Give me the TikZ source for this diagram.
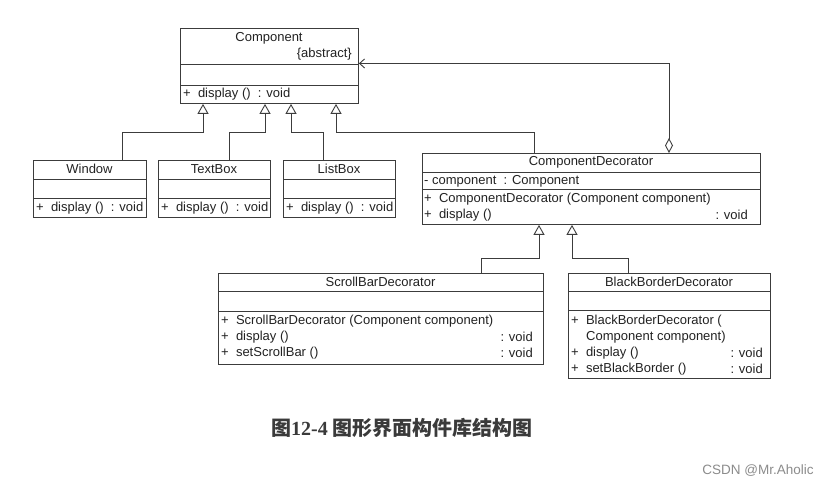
\documentclass[tikz,border=0pt]{standalone}
\usepackage{fontspec}
\setmainfont{Liberation Sans}
\newfontfamily\cjk{Noto Sans CJK SC}
\newfontfamily\serifb{Liberation Serif}
\usetikzlibrary{arrows.meta}
\definecolor{ln}{HTML}{3C3C3C}
\definecolor{tx}{HTML}{222222}
\definecolor{capc}{HTML}{3A3A3A}
\definecolor{wmc}{HTML}{8C8C8C}
\begin{document}
\begin{tikzpicture}[x=1pt,y=-1pt,
  cls/.style={draw=ln, line width=0.9pt, inner sep=0pt, anchor=north west},
  sep/.style={draw=ln, line width=0.9pt},
  txt/.style={inner sep=0pt, font=\fontsize{13}{15}\selectfont, text=tx},
  inh/.style={draw=ln, line width=0.9pt, -{Triangle[open, length=10pt, width=11pt, fill=white]}},
  agg/.style={draw=ln, line width=0.9pt, {Diamond[open, length=15pt, width=8pt, fill=white]}-{Straight Barb[length=5pt, width=9pt]}},
]
\fill[white] (0,0) rectangle (830,486);
\useasboundingbox (0,0) rectangle (830,486);

% Component
\node[cls, minimum width=178pt, minimum height=75pt] (comp) at (180,28) {};
\draw[sep] (180,64) -- (358,64) (180,85) -- (358,85);
\node[txt] (compn) at (269,38) {Component};
\node[txt, anchor=east] (compa) at (352,54) {\{abstract\}};
\node[txt, anchor=west] (compm) at (183,94) {+\ \ display () \ : void};

% Window
\node[cls, minimum width=113pt, minimum height=57pt] (win) at (33,160) {};
\draw[sep] (33,179) -- (146,179) (33,198) -- (146,198);
\node[txt] (winn) at (89.5,169) {Window};
\node[txt, anchor=west] (winm) at (36,208) {+\ \ display () \ : void};

% TextBox
\node[cls, minimum width=112pt, minimum height=57pt] (tb) at (158,160) {};
\draw[sep] (158,179) -- (270,179) (158,198) -- (270,198);
\node[txt] (tbn) at (214,169) {TextBox};
\node[txt, anchor=west] (tbm) at (161,208) {+\ \ display () \ : void};

% ListBox
\node[cls, minimum width=112pt, minimum height=57pt] (lb) at (283,160) {};
\draw[sep] (283,179) -- (395,179) (283,198) -- (395,198);
\node[txt] (lbn) at (339,169) {ListBox};
\node[txt, anchor=west] (lbm) at (286,208) {+\ \ display () \ : void};

% ComponentDecorator
\node[cls, minimum width=338pt, minimum height=71pt] (cd) at (422,153) {};
\draw[sep] (422,172) -- (760,172) (422,189) -- (760,189);
\node[txt] (cdn) at (591,162) {ComponentDecorator};
\node[txt, anchor=west] (cda) at (424,181) {-\ component \ : Component};
\node[txt, anchor=west] (cdm1) at (424,199) {+\ \ ComponentDecorator (Component component)};
\node[txt, anchor=west] (cdm2) at (424,215) {+\ \ display ()};
\node[txt, anchor=east] (cdv2) at (748,215) {: void};

% ScrollBarDecorator
\node[cls, minimum width=325pt, minimum height=91pt] (sb) at (218,273) {};
\draw[sep] (218,291) -- (543,291) (218,311) -- (543,311);
\node[txt] (sbn) at (380.5,282) {ScrollBarDecorator};
\node[txt, anchor=west] (sbm1) at (221,321) {+\ \ ScrollBarDecorator (Component component)};
\node[txt, anchor=west] (sbm2) at (221,337) {+\ \ display ()};
\node[txt, anchor=west] (sbm3) at (221,353) {+\ \ setScrollBar ()};
\node[txt, anchor=east] (sbv2) at (533,337) {: void};
\node[txt, anchor=east] (sbv3) at (533,353) {: void};

% BlackBorderDecorator
\node[cls, minimum width=202pt, minimum height=105pt] (bb) at (568,273) {};
\draw[sep] (568,291) -- (770,291) (568,310) -- (770,310);
\node[txt] (bbn) at (669,282) {BlackBorderDecorator};
\node[txt, anchor=west] (bbm1) at (571,321) {+\ \ BlackBorderDecorator (};
\node[txt, anchor=west] (bbm1b) at (586,337) {Component component)};
\node[txt, anchor=west] (bbm2) at (571,353) {+\ \ display ()};
\node[txt, anchor=west] (bbm3) at (571,369) {+\ \ setBlackBorder ()};
\node[txt, anchor=east] (bbv2) at (763,353) {: void};
\node[txt, anchor=east] (bbv3) at (763,369) {: void};

% inheritance to Component
\coordinate (c1) at ([xshift=23pt]comp.south west);
\coordinate (c2) at ([xshift=85pt]comp.south west);
\coordinate (c3) at ([xshift=111pt]comp.south west);
\coordinate (c4) at ([xshift=156pt]comp.south west);
\draw[inh] ([xshift=89pt]win.north west) |- ([yshift=-29pt]c1) -- (c1);
\draw[inh] ([xshift=71pt]tb.north west) |- ([yshift=-29pt]c2) -- (c2);
\draw[inh] ([xshift=40pt]lb.north west) |- ([yshift=-29pt]c3) -- (c3);
\draw[inh] ([xshift=112pt]cd.north west) |- ([yshift=-29pt]c4) -- (c4);

% inheritance to ComponentDecorator
\coordinate (d1) at ([xshift=117pt]cd.south west);
\coordinate (d2) at ([xshift=150pt]cd.south west);
\draw[inh] ([xshift=263pt]sb.north west) |- ([yshift=-34pt]d1) -- (d1);
\draw[inh] ([xshift=60pt]bb.north west) |- ([yshift=-34pt]d2) -- (d2);

% aggregation
\draw[agg] ([xshift=247pt]cd.north west) |- ([yshift=2.5pt]comp.east);

% caption
\node[inner sep=0pt, font=\fontsize{20}{24}\selectfont\bfseries, text=capc] (cap) at (402,428)
  {\cjk 图\serifb 12-4 \cjk 图形界面构件库结构图};
\node[inner sep=0pt, font=\fontsize{13.5}{16}\selectfont, text=wmc] (wm) at (758,471) {CSDN @Mr.Aholic};
\end{tikzpicture}
\end{document}
